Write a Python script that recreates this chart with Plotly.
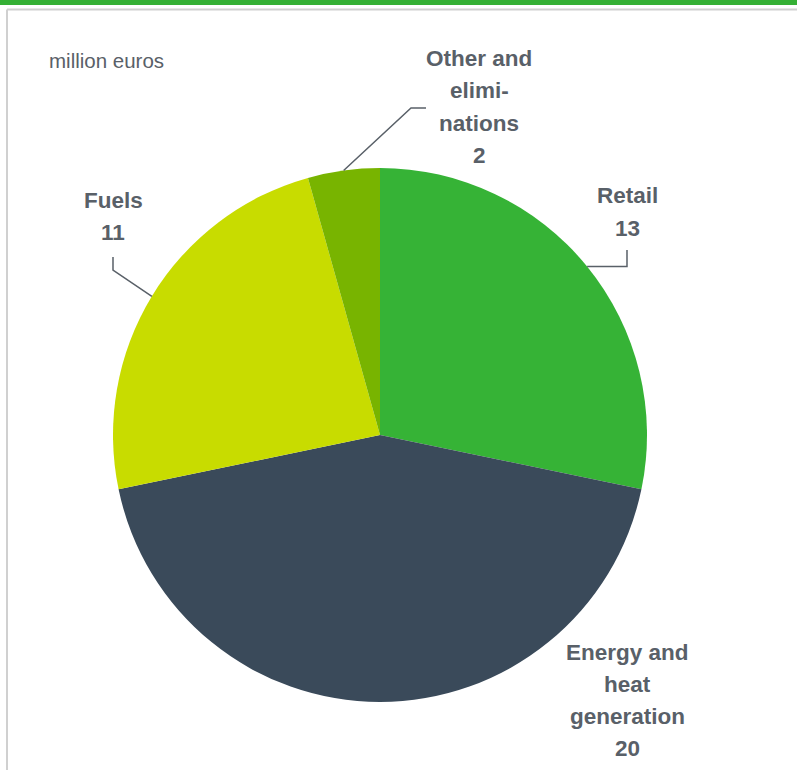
import math
import plotly.graph_objects as go

# ---- data ----
categories = ["Retail", "Energy and heat generation", "Fuels", "Other and eliminations"]
values = [13, 20, 11, 2]
label_lines = [
    ["Retail", "13"],
    ["Energy and", "heat", "generation", "20"],
    ["Fuels", "11"],
    ["Other and", "elimi-", "nations", "2"],
]
colors = ["#36b336", "#3a4a5a", "#c8dc00", "#78b400"]
unit_label = "million euros"

# ---- layout constants (pixels) ----
W, H = 797, 770
CX, CY, R = 380, 435, 267
TEXT_COLOR = "#596068"
LINE_H = 32
# label centre x, first-line y; elbow points for leader lines (None = no line)
label_pos = [
    (627, 196, [(627, None), (627, 250)]),
    (627, 652, None),
    (113, 201, [(113, 270), (113, 257)]),
    (479, 59, [(411, 108), (426, 108)]),
]


def px(x):
    return x / W


def py(y):
    return 1 - y / H


fig = go.Figure(
    go.Pie(
        labels=categories,
        values=values,
        marker=dict(colors=colors, line=dict(width=0)),
        sort=False,
        direction="clockwise",
        rotation=0,
        textinfo="none",
        hoverinfo="label+value",
        showlegend=False,
        domain=dict(x=[px(CX - R), px(CX + R)], y=[py(CY + R), py(CY - R)]),
    )
)

annotations = []
shapes = []
total = sum(values)
cum = 0
for i, v in enumerate(values):
    mid = (cum + v / 2) / total * 2 * math.pi
    cum += v
    ax = CX + R * math.sin(mid)
    ay = CY - R * math.cos(mid)
    lx, ly, elbows = label_pos[i]
    for j, t in enumerate(label_lines[i]):
        annotations.append(dict(
            x=px(lx), y=py(ly + j * LINE_H), xref="paper", yref="paper",
            text=f"<b>{t}</b>", showarrow=False, xanchor="center", yanchor="middle",
            font=dict(family="Liberation Sans, Arial", size=22.5, color=TEXT_COLOR),
        ))
    if elbows:
        pts = [(ax, ay)]
        for ex, ey in elbows:
            pts.append((ex, ay if ey is None else ey))
        path = "M " + " L ".join(f"{px(a):.5f},{py(b):.5f}" for a, b in pts)
        shapes.append(dict(type="path", xref="paper", yref="paper", path=path,
                           line=dict(color=TEXT_COLOR, width=1.5)))

annotations.append(dict(
    x=px(47), y=py(60), xref="paper", yref="paper", text=unit_label,
    showarrow=False, xanchor="left", yanchor="middle",
    font=dict(family="Liberation Sans, Arial", size=20.5, color=TEXT_COLOR),
))

# frame: green top bar and light grey border
shapes.append(dict(type="rect", xref="paper", yref="paper", x0=0, x1=1,
                   y0=py(5), y1=1, fillcolor="#35b035", line=dict(width=0)))
shapes.append(dict(type="line", xref="paper", yref="paper", x0=px(7), x1=1,
                   y0=py(9.5), y1=py(9.5), line=dict(color="#d0d0d0", width=2)))
shapes.append(dict(type="line", xref="paper", yref="paper", x0=px(7), x1=px(7),
                   y0=py(9.5), y1=0, line=dict(color="#d0d0d0", width=2)))

fig.update_layout(
    width=W, height=H,
    margin=dict(l=0, r=0, t=0, b=0),
    paper_bgcolor="white", plot_bgcolor="white",
    annotations=annotations, shapes=shapes,
)

fig.write_html("out.html")
